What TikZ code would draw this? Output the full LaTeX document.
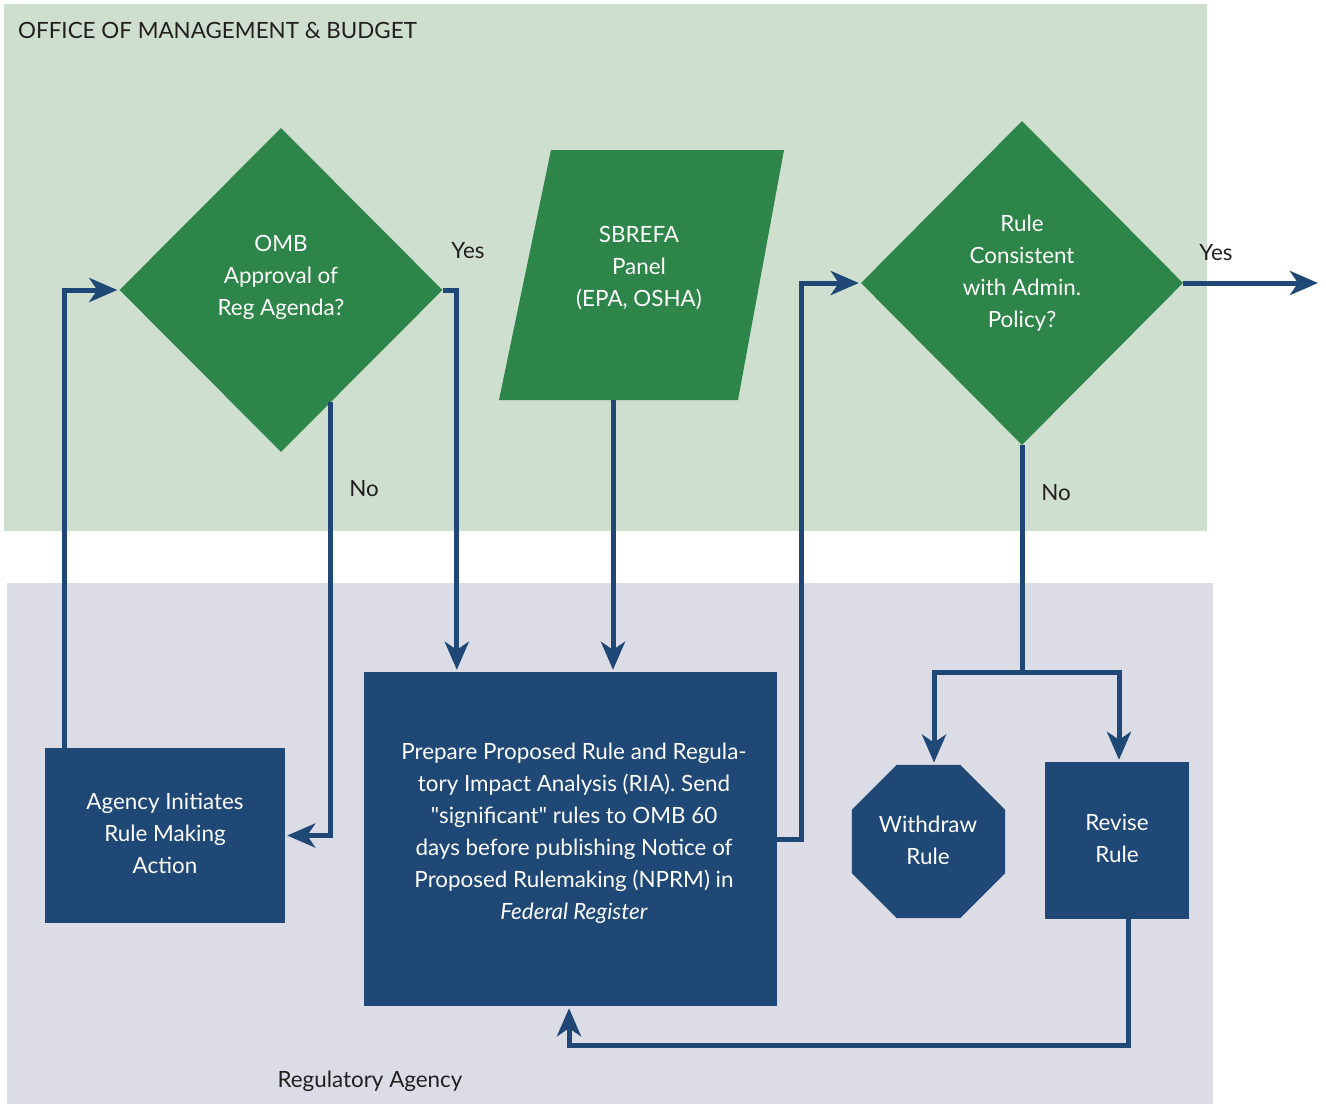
\documentclass[tikz,border=0pt]{standalone}
\usepackage{fontspec}
\setmainfont{Lato}
\newfontfamily\rawlato{Lato}
\usetikzlibrary{shapes.geometric,arrows.meta}
\definecolor{ombbg}{HTML}{CEDECF}
\definecolor{agbg}{HTML}{DCDCE6}
\definecolor{dgreen}{HTML}{2D8549}
\definecolor{dblue}{HTML}{1F4877}
\definecolor{txt}{HTML}{231F20}
\tikzset{
  txtstyle/.style={font=\fontsize{22.4}{32}\selectfont, align=center, inner sep=0pt},
  wtext/.style={txtstyle, text=white},
  ktext/.style={txtstyle, text=txt},
  dia/.style={diamond, fill=dgreen, inner sep=0pt, aspect=1},
  bluebox/.style={rectangle, fill=dblue, inner sep=0pt},
  conn/.style={draw=dblue, line width=5pt, line join=miter, -{Stealth[length=28pt,width=24pt,inset=8pt]}, shorten >=2pt},
  plain/.style={draw=dblue, line width=5pt, line join=miter}
}
\begin{document}
\begin{tikzpicture}[x=1pt,y=-1pt]
\useasboundingbox (0,0) rectangle (1326,1104);
% backgrounds
\fill[ombbg] (4,4) rectangle (1207,531);
\fill[agbg] (7,583) rectangle (1213,1104);
\node[ktext, anchor=west] (omb) at (18,30) {OFFICE OF MANAGEMENT \& BUDGET};
\node[ktext] (reg) at (370,1081) {Regulatory Agency};
% shapes
\node[dia, minimum width=323pt, minimum height=324pt] (d1) at (281,290) {};
\node[wtext] (d1t) at (281,277) {OMB\\Approval of\\Reg Agenda?};
\fill[dgreen] (551,150) -- (784,150) -- (738,400) -- (499,400) -- cycle;
\node[wtext] (sb) at (639,268) {SBREFA\\Panel\\(EPA, OSHA)};
\coordinate (sbs) at (613,400);
\node[dia, minimum width=322pt, minimum height=324pt] (d2) at (1022,283) {};
\node[wtext] (d2t) at (1022,273) {Rule\\Consistent\\with Admin.\\Policy?};
\node[bluebox, minimum width=240pt, minimum height=175pt] (agency) at (165,835.5) {};
\node[wtext] (agt) at (165,833) {Agency Initiates\\Rule Making\\Action};
\node[bluebox, minimum width=413pt, minimum height=334pt] (prep) at (570.5,839) {};
\node[wtext] (prept) at (574,833) {Prepare Proposed Rule and Regula-\\tory Impact Analysis (RIA). Send\\{\rawlato"}significant{\rawlato"} rules to OMB 60\\days before publishing Notice of\\Proposed Rulemaking (NPRM) in\\\textit{Federal Register}};
\node[regular polygon, regular polygon sides=8, fill=dblue, minimum size=166pt, inner sep=0pt] (wd) at (928.5,841.5) {};
\node[wtext] (wdt) at (928,840) {Withdraw\\Rule};
\node[bluebox, minimum width=144pt, minimum height=157pt] (rev) at (1117,840.5) {};
\node[wtext] (revt) at (1117,838) {Revise\\Rule};
\coordinate (out) at (1320,283);
% labels
\node[ktext] (y1) at (468,251) {Yes};
\node[ktext] (n1) at (364,489) {No};
\node[ktext] (y2) at (1216,253) {Yes};
\node[ktext] (n2) at (1056,493) {No};
% connectors
\draw[conn] ([xshift=20pt]agency.north west) |- (d1.west);
\draw[conn] (d1.-66) |- (agency.east);
\draw[conn] (d1.east) -| ([xshift=93pt]prep.north west);
\draw[conn] (sbs) -- (sbs |- prep.north);
\draw[conn] (prep.east) -- ++(24,0) |- (d2.west);
\draw[conn] (d2.east) -- (out);
\draw[plain] (d2.south) -- (1022,672) coordinate (split);
\draw[conn] (split) -| ([xshift=5.5pt]wd.north);
\draw[conn] (split) -| ([xshift=2pt]rev.north);
\draw[conn] ([xshift=11pt]rev.south) -- ++(0,126) -| ([xshift=-1.5pt]prep.south);
\end{tikzpicture}
\end{document}
